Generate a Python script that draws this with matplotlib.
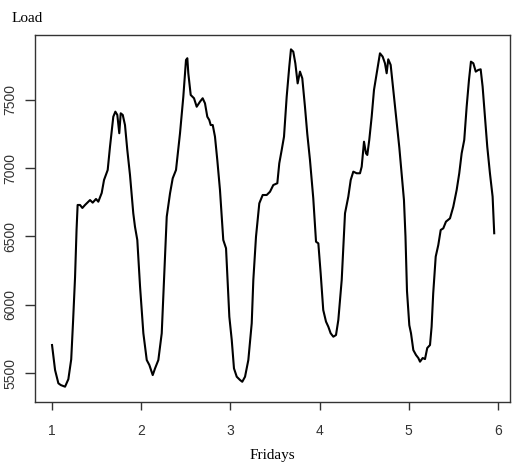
import matplotlib
matplotlib.use("Agg")
import matplotlib.pyplot as plt

# Half-hourly load over five consecutive Fridays (x = day index)
day_pos = [
    1.000, 1.034, 1.071, 1.098, 1.146, 1.183, 1.215, 1.236, 1.258, 1.275,
    1.287, 1.314, 1.340, 1.370, 1.426, 1.456, 1.493, 1.519, 1.557, 1.583,
    1.624, 1.650, 1.687, 1.710, 1.732, 1.754, 1.770, 1.793, 1.818, 1.844,
    1.874, 1.911, 1.930, 1.956, 1.987, 2.024, 2.062, 2.091, 2.129, 2.155,
    2.192, 2.230, 2.259, 2.286, 2.323, 2.353, 2.390, 2.435, 2.472, 2.502,
    2.517, 2.528, 2.555, 2.592, 2.622, 2.659, 2.689, 2.715, 2.741, 2.763,
    2.779, 2.802, 2.827, 2.853, 2.883, 2.920, 2.951, 2.988, 3.015, 3.040,
    3.071, 3.108, 3.133, 3.164, 3.201, 3.239, 3.257, 3.287, 3.324, 3.362,
    3.407, 3.444, 3.481, 3.526, 3.548, 3.575, 3.601, 3.631, 3.660, 3.679,
    3.705, 3.728, 3.754, 3.780, 3.806, 3.836, 3.862, 3.892, 3.929, 3.960,
    3.986, 4.012, 4.041, 4.072, 4.098, 4.124, 4.154, 4.184, 4.210, 4.248,
    4.266, 4.285, 4.322, 4.349, 4.378, 4.416, 4.453, 4.472, 4.498, 4.520,
    4.535, 4.557, 4.584, 4.610, 4.640, 4.677, 4.707, 4.733, 4.752, 4.770,
    4.797, 4.826, 4.864, 4.894, 4.920, 4.946, 4.963, 4.980, 5.006, 5.025,
    5.051, 5.081, 5.107, 5.126, 5.156, 5.182, 5.207, 5.238, 5.256, 5.274,
    5.302, 5.331, 5.358, 5.387, 5.417, 5.462, 5.499, 5.537, 5.566, 5.593,
    5.622, 5.649, 5.675, 5.697, 5.724, 5.751, 5.779, 5.806, 5.828, 5.854,
    5.880, 5.910, 5.940, 5.958,
]
load = [
    5705, 5522, 5425, 5412, 5400, 5455, 5600, 5880, 6200, 6550,
    6730, 6730, 6708, 6730, 6766, 6747, 6774, 6754, 6818, 6913,
    6986, 7157, 7376, 7413, 7389, 7255, 7401, 7389, 7315, 7132,
    6950, 6669, 6571, 6474, 6132, 5791, 5595, 5559, 5485, 5534,
    5595, 5791, 6230, 6644, 6815, 6925, 6986, 7255, 7522, 7791,
    7804, 7694, 7535, 7511, 7449, 7486, 7511, 7474, 7376, 7352,
    7315, 7315, 7230, 7059, 6840, 6474, 6413, 5912, 5742, 5534,
    5473, 5449, 5436, 5473, 5595, 5864, 6181, 6498, 6742, 6803,
    6803, 6827, 6876, 6889, 7035, 7132, 7230, 7522, 7742, 7869,
    7852, 7767, 7620, 7706, 7657, 7449, 7250, 7060, 6780, 6461,
    6449, 6230, 5961, 5876, 5839, 5791, 5766, 5778, 5888, 6181,
    6425, 6669, 6791, 6913, 6974, 6962, 6962, 7010, 7193, 7108,
    7096, 7206, 7376, 7572, 7694, 7840, 7816, 7767, 7694, 7796,
    7755, 7572, 7328, 7150, 6962, 6766, 6500, 6100, 5850, 5791,
    5668, 5632, 5610, 5583, 5610, 5602, 5683, 5705, 5839, 6083,
    6352, 6437, 6547, 6559, 6608, 6632, 6717, 6840, 6962, 7108,
    7206, 7449, 7645, 7779, 7767, 7706, 7718, 7723, 7596, 7376,
    7157, 6962, 6791, 6523,
]

x_ticks = [1, 2, 3, 4, 5, 6]
y_ticks = [5500, 6000, 6500, 7000, 7500]

fig = plt.figure(figsize=(5.12, 4.65), dpi=100)
ax = fig.add_axes([35 / 512, 1 - 402 / 465, 475 / 512, 367 / 465])

ax.plot(day_pos, load, color="black", lw=1.5, solid_joinstyle="round")

ax.set_xlim(0.809, 6.135)
ax.set_ylim(5288, 7974)
ax.set_xticks(x_ticks)
ax.set_yticks(y_ticks)
ax.set_xticklabels([str(t) for t in x_ticks], fontfamily="Liberation Sans", fontsize=10)
ax.set_yticklabels([str(t) for t in y_ticks], fontfamily="Liberation Sans", fontsize=10,
                   rotation=90, va="center")
ax.tick_params(axis="x", length=6, width=1, pad=10, colors="#333333")
ax.tick_params(axis="y", length=7, width=1, pad=6, colors="#333333")
for sp in ax.spines.values():
    sp.set_color("#333333")
    sp.set_linewidth(1)

ax.set_xlabel("Fridays", fontfamily="Liberation Serif", fontsize=11, labelpad=8)
fig.text(12 / 512, 1 - 18 / 465, "Load", fontfamily="Liberation Serif",
         fontsize=11, ha="left", va="center")

fig.savefig("out.png", dpi=100)
